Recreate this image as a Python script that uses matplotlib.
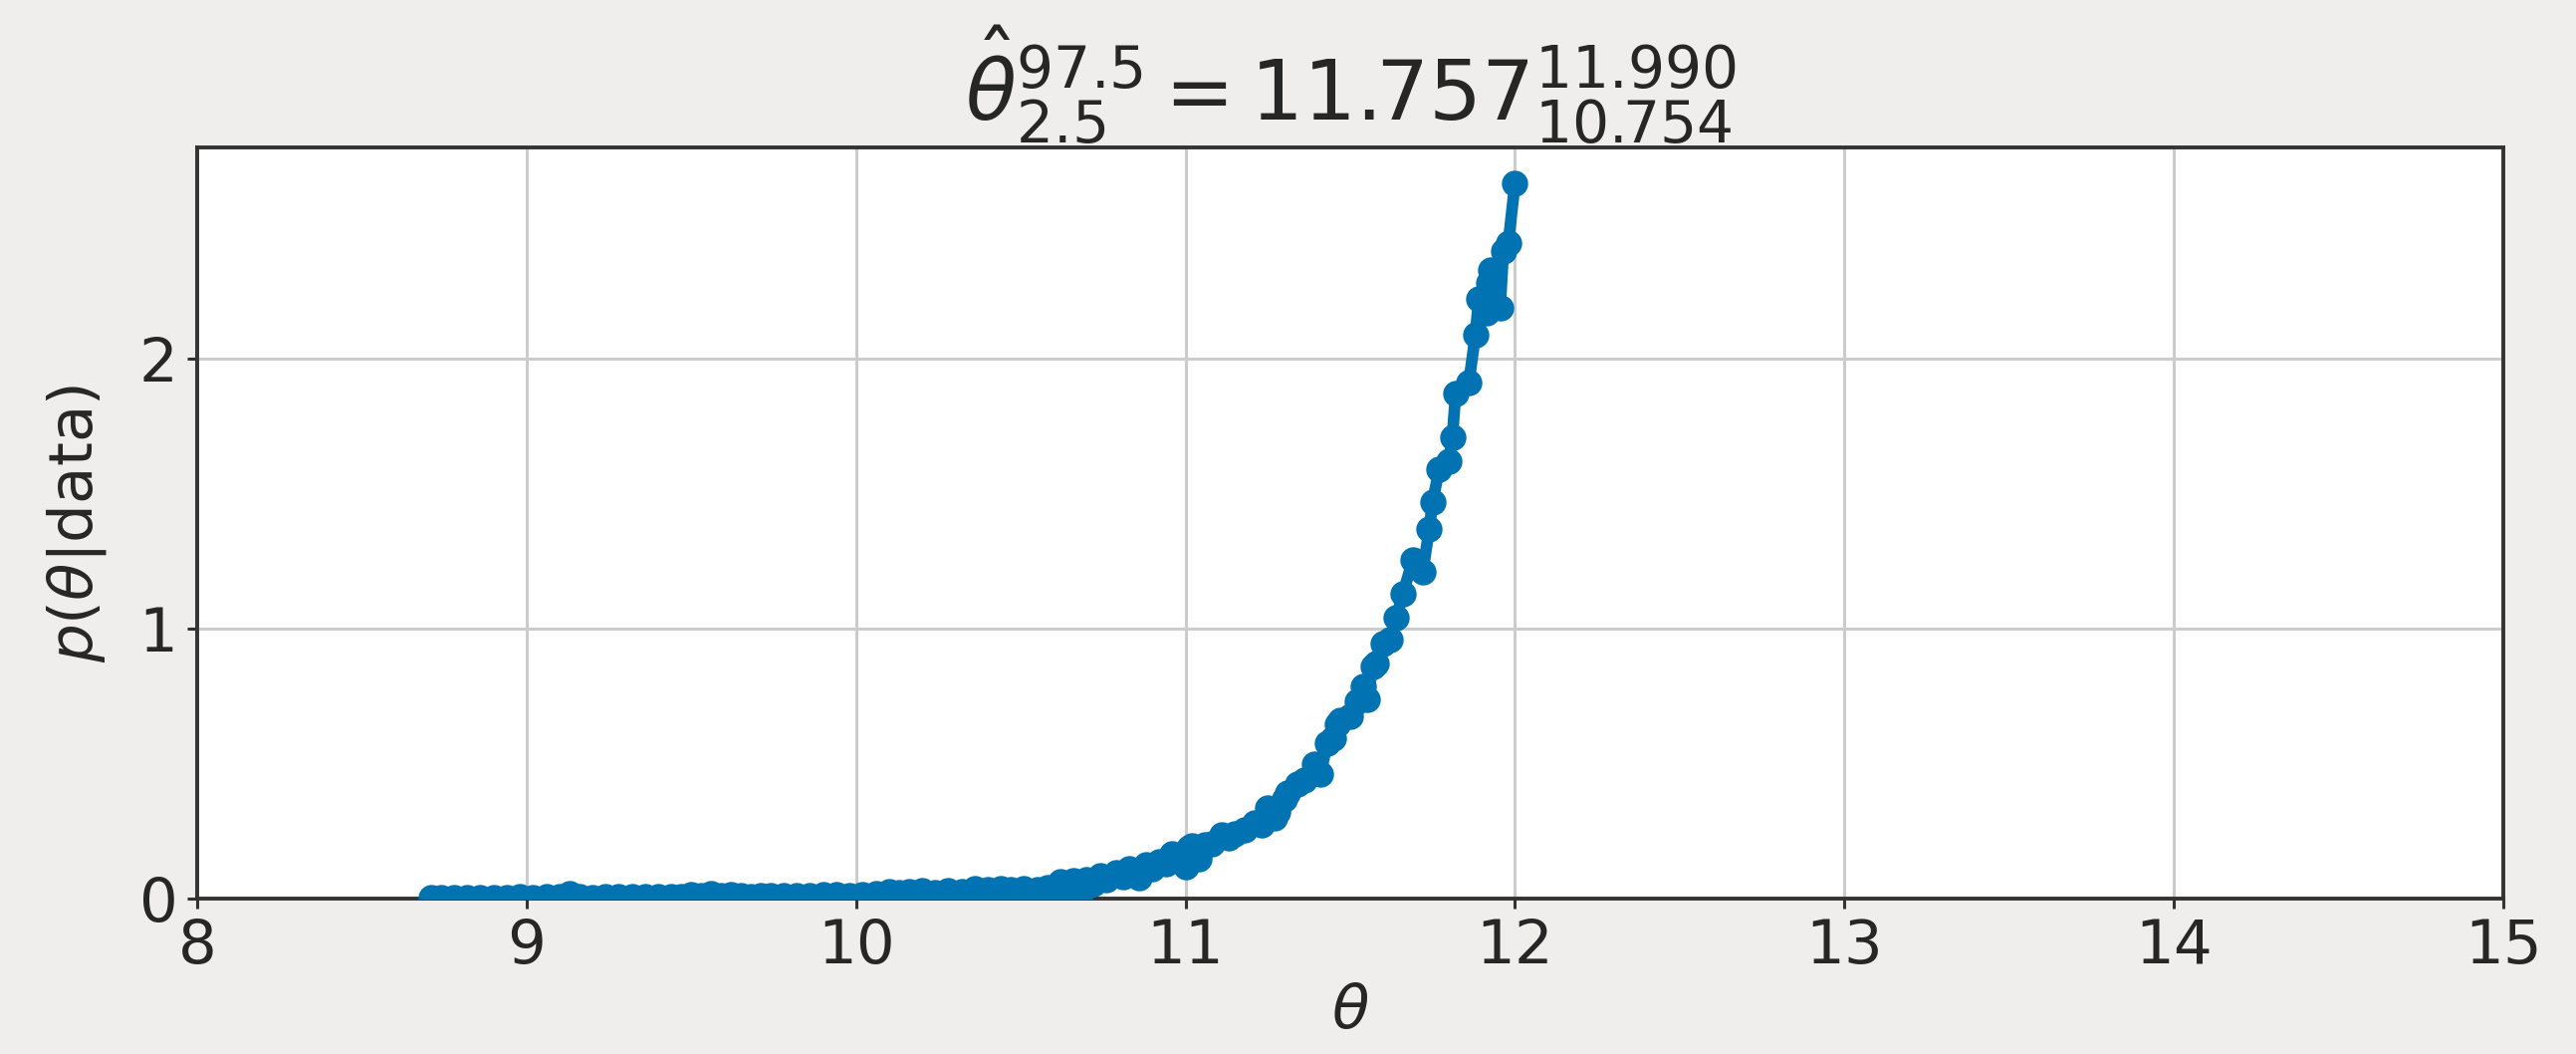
import numpy as np
import matplotlib
matplotlib.use('Agg')
import matplotlib.pyplot as plt

# posterior samples (theta) and density values
theta = [8.71, 8.74, 8.78, 8.82, 8.86, 8.90, 8.94, 8.98, 9.02, 9.06,
         9.10, 9.13, 9.16, 9.20, 9.24, 9.28, 9.32, 9.36, 9.40, 9.44,
         9.47, 9.50, 9.53, 9.56, 9.59, 9.62, 9.65, 9.68, 9.71, 9.74,
         9.78, 9.82, 9.86, 9.90, 9.94, 9.98, 10.02, 10.06, 10.10, 10.13,
         10.16, 10.20, 10.24, 10.28, 10.32, 10.36, 10.40, 10.44, 10.47, 10.51,
         10.55, 10.58, 10.60, 10.62, 10.64, 10.66, 10.68, 10.70, 10.72, 10.74,
         10.76, 10.79, 10.81, 10.83, 10.85, 10.86, 10.88, 10.90, 10.92, 10.94,
         10.96, 10.98, 11.00, 11.01, 11.02, 11.04, 11.06, 11.08, 11.11, 11.13,
         11.15, 11.18, 11.21, 11.23, 11.25, 11.27, 11.28, 11.30, 11.31, 11.34,
         11.36, 11.39, 11.41, 11.43, 11.45, 11.46, 11.47, 11.50, 11.52, 11.54,
         11.55, 11.57, 11.58, 11.60, 11.62, 11.64, 11.66, 11.69, 11.72, 11.74,
         11.75, 11.77, 11.80, 11.81, 11.82, 11.86, 11.88, 11.89, 11.915, 11.92,
         11.925, 11.955, 11.965, 11.98, 12.00]
density = [0.004, 0.004, 0.005, 0.004, 0.005, 0.005, 0.005, 0.006, 0.005, 0.006,
           0.008, 0.018, 0.006, 0.005, 0.006, 0.006, 0.006, 0.007, 0.006, 0.007,
           0.007, 0.016, 0.012, 0.017, 0.011, 0.016, 0.010, 0.006, 0.012, 0.013,
           0.012, 0.013, 0.013, 0.014, 0.014, 0.013, 0.015, 0.018, 0.027, 0.022,
           0.025, 0.028, 0.024, 0.030, 0.026, 0.036, 0.033, 0.038, 0.032, 0.036,
           0.035, 0.040, 0.028, 0.062, 0.045, 0.068, 0.020, 0.072, 0.055, 0.085,
           0.070, 0.095, 0.082, 0.110, 0.090, 0.078, 0.125, 0.110, 0.138, 0.128,
           0.165, 0.150, 0.120, 0.190, 0.195, 0.148, 0.200, 0.205, 0.235, 0.225,
           0.240, 0.255, 0.280, 0.275, 0.335, 0.300, 0.320, 0.370, 0.390, 0.425,
           0.440, 0.500, 0.460, 0.575, 0.595, 0.645, 0.660, 0.675, 0.730, 0.785,
           0.740, 0.860, 0.870, 0.945, 0.960, 1.040, 1.130, 1.255, 1.210, 1.370,
           1.470, 1.590, 1.620, 1.710, 1.870, 1.910, 2.090, 2.220, 2.170, 2.280,
           2.330, 2.190, 2.400, 2.430, 2.650]

estimate, lo, hi = 11.757, 10.754, 11.990

fig = plt.figure(figsize=(12.935, 5.29), dpi=200, facecolor='#efeeec')
ax = fig.add_axes([0.0765, 0.1474, 0.8953, 0.7126])
ax.set_facecolor('white')

ax.plot(theta, density, '-o', color='#0173b2', lw=4.2, markersize=8.5, zorder=3)

ax.set_xlim(8, 15)
ax.set_ylim(bottom=0)
ax.set_xticks(np.arange(8, 16, 1))
ax.set_yticks([0, 1, 2])
ax.grid(True, color='#cccccc', lw=1.1)
ax.set_axisbelow(True)
for s in ax.spines.values():
    s.set_color('#333333')
    s.set_linewidth(1.4)
ax.tick_params(labelsize=22, colors='#333333', length=3.5, width=1.1)
for lab in ax.get_xticklabels() + ax.get_yticklabels():
    lab.set_color('#262626')

ax.set_xlabel(r'$\theta$', fontsize=22, color='#262626', labelpad=2)
ax.set_ylabel(r'$p(\theta|\mathrm{data})$', fontsize=22, color='#262626', labelpad=11)
ax.set_title(r'$\hat{\theta}_{2.5}^{97.5} = %.3f^{%.3f}_{%.3f}$' % (estimate, hi, lo),
             fontsize=30, color='#262626', pad=4)

plt.savefig('out.png', dpi=200, facecolor=fig.get_facecolor())
